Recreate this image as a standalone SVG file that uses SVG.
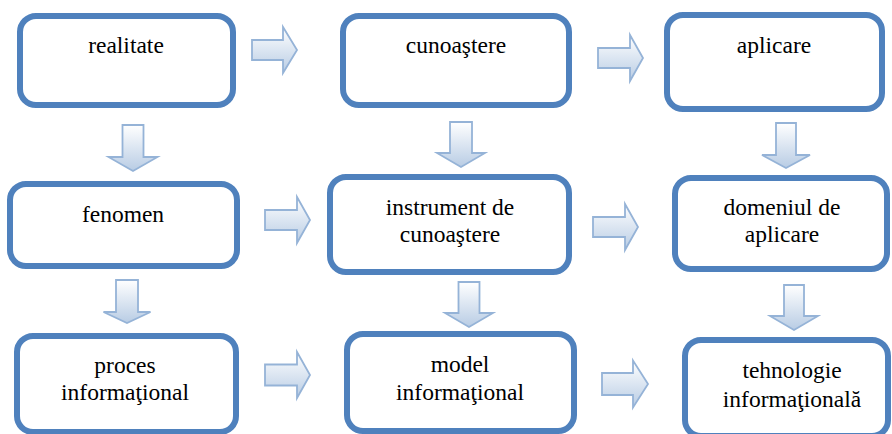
<svg xmlns="http://www.w3.org/2000/svg" width="892" height="434" viewBox="0 0 892 434">
<defs>
<linearGradient id="ag" x1="0" y1="0" x2="0" y2="1">
<stop offset="0" stop-color="#FFFFFF"/>
<stop offset="1" stop-color="#B8CCE4"/>
</linearGradient>
<style>
.box{fill:#FFFFFF;stroke:#4F81BD;stroke-width:6}
.arr{fill:url(#ag);stroke:#95B3D7;stroke-width:1.8;stroke-linejoin:miter}
text{font-family:'Liberation Serif','Times New Roman',serif;font-size:23.5px;fill:#000000;text-anchor:middle}
</style>
</defs>
<rect width="892" height="434" fill="#FFFFFF"/>
<g id="connectors">
<path class="arr" d="M252,40 H283 V27 L297,50 L283,73 V60 H252 Z"/>
<path class="arr" d="M598,48 H630 V35 L643,58 L630,81 V68 H598 Z"/>
<path class="arr" d="M265,210 H297 V197 L310,220 L297,243 V230 H265 Z"/>
<path class="arr" d="M593,217 H625 V204 L638,227 L625,250 V237 H593 Z"/>
<path class="arr" d="M265,364.5 H297 V352 L310,375 L297,398 V385.5 H265 Z"/>
<path class="arr" d="M602,373 H633 V360.5 L648,384 L633,407.5 V395 H602 Z"/>
<path class="arr" d="M122.5,125 H143.5 V157 H157.5 L133,171 L108.5,157 H122.5 Z"/>
<path class="arr" d="M450,122 H472 V153 H485 L461,167 L437,153 H450 Z"/>
<path class="arr" d="M776,123 H796 V155 H810 L786,168 L762,155 H776 Z"/>
<path class="arr" d="M116,280 H138 V312 H150.5 L127,323 L103.5,312 H116 Z"/>
<path class="arr" d="M458.5,282 H479.5 V313 H493 L469,327 L445,313 H458.5 Z"/>
<path class="arr" d="M784,285 H804 V316 H818 L794,330 L770,316 H784 Z"/>
</g>
<g id="realitate"><rect class="box" x="20" y="16" width="213" height="89" rx="16"/><text x="126" y="53">realitate</text></g>
<g id="cunoastere"><rect class="box" x="343" y="16" width="226" height="89" rx="16"/><text x="456" y="53">cunoaştere</text></g>
<g id="aplicare"><rect class="box" x="667" y="15" width="215" height="94" rx="16"/><text x="774" y="53">aplicare</text></g>
<g id="fenomen"><rect class="box" x="10" y="184" width="227" height="82" rx="16"/><text x="123" y="222">fenomen</text></g>
<g id="instrument"><rect class="box" x="330" y="177" width="239" height="95" rx="16"/><text x="450" y="215">instrument de</text><text x="450" y="242">cunoaştere</text></g>
<g id="domeniul"><rect class="box" x="675" y="178" width="212" height="91" rx="16"/><text x="782" y="215">domeniul de</text><text x="782" y="242">aplicare</text></g>
<g id="proces"><rect class="box" x="17" y="336" width="219" height="96" rx="16"/><text x="125" y="373">proces</text><text x="125" y="400">informaţional</text></g>
<g id="model"><rect class="box" x="347" y="334" width="227" height="97" rx="16"/><text x="460" y="372">model</text><text x="460" y="400">informaţional</text></g>
<g id="tehnologie"><rect class="box" x="685" y="340" width="203" height="96" rx="16"/><text x="792" y="378">tehnologie</text><text x="792" y="407">informaţională</text></g>
</svg>
